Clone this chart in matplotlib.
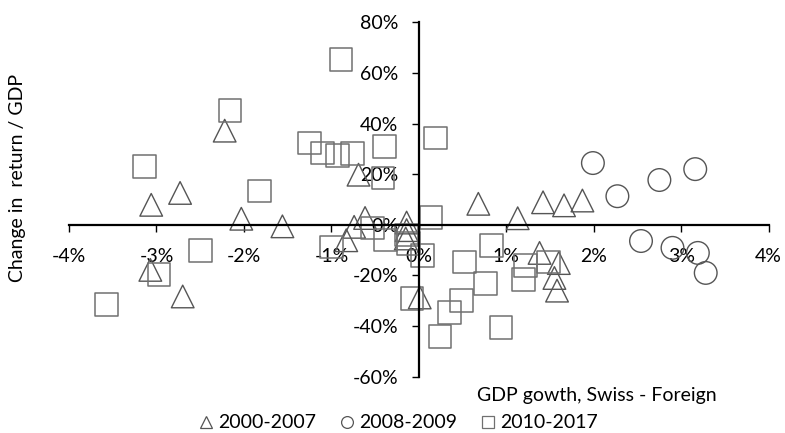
import matplotlib
matplotlib.use("Agg")
import matplotlib.pyplot as plt
from matplotlib.lines import Line2D
from matplotlib.ticker import FuncFormatter, MultipleLocator

plt.rcParams['font.family'] = ['Lato', 'DejaVu Sans']
plt.rcParams['axes.unicode_minus'] = False

# ---- data (percent units) ----
series_labels = ["2000-2007", "2008-2009", "2010-2017"]

tri_x = [-3.06, -2.73, -2.03, -3.07, -2.70, -2.22, -0.69, -1.56, -0.615, -0.74, -0.83,
         -0.14, -0.14, -0.15, 0.01, 0.68, 1.13, 1.42, 1.66, 1.87, 1.38, 1.60, 1.55, 1.58]
tri_y = [7.9, 12.6, 2.4, -17.8, -28.3, 37.2, 19.8, -0.6, 2.7, -0.8, -6.1,
         0.9, -2.1, -5.4, -28.7, 8.3, 2.6, 8.9, 7.7, 9.6, -11.1, -15.1, -21.0, -26.0]

circ_x = [1.99, 2.27, 2.75, 3.16, 2.54, 2.90, 3.19, 3.28]
circ_y = [24.4, 11.3, 17.7, 22.0, -6.4, -9.1, -11.1, -19.0]

sq_x = [-0.89, -2.16, -3.14, -1.82, -1.25, -1.10, -0.93, -0.76, -0.39, -0.41, 0.19,
        -2.50, -2.97, -3.57, -1.00, -0.53, -0.38, -0.14, -0.12, 0.04, 0.14, -0.08,
        0.83, 0.52, 0.76, 0.49, 0.35, 0.24, 0.94, 1.22, 1.20, 1.48]
sq_y = [65.2, 45.1, 23.1, 13.4, 32.3, 28.3, 27.4, 28.1, 31.0, 18.5, 34.3,
        -10.1, -19.6, -31.6, -8.8, -1.2, -6.0, -4.0, -7.5, -12.2, 3.0, -29.2,
        -8.1, -14.7, -23.2, -29.8, -34.6, -44.2, -40.5, -16.1, -21.5, -14.7]

x_title = "GDP gowth, Swiss - Foreign"
y_title = "Change in  return / GDP"

# ---- figure ----
W, H = 785, 433
fig = plt.figure(figsize=(W / 100, H / 100), dpi=100)
ax = fig.add_axes([69 / W, (H - 376.7) / H, (768.7 - 69) / W, (376.7 - 22.3) / H])

ms = 16.3
edge_dark = "#555555"
edge_sq = "#707070"
ax.scatter(tri_x, tri_y, marker="^", s=ms ** 2, facecolors="none",
           edgecolors=edge_dark, linewidths=1.0, zorder=2)
ax.scatter(circ_x, circ_y, marker="o", s=ms ** 2, facecolors="none",
           edgecolors=edge_dark, linewidths=1.0, zorder=2)
ax.scatter(sq_x, sq_y, marker="s", s=ms ** 2, facecolors="none",
           edgecolors=edge_sq, linewidths=1.1, zorder=2)

ax.set_xlim(-4, 4)
ax.set_ylim(-60, 80)
ax.xaxis.set_major_locator(MultipleLocator(1))
ax.yaxis.set_major_locator(MultipleLocator(20))
fmt = FuncFormatter(lambda v, p: f"{v:.0f}%")
ax.xaxis.set_major_formatter(fmt)
ax.yaxis.set_major_formatter(fmt)

for s in ["top", "right"]:
    ax.spines[s].set_visible(False)
ax.spines["left"].set_position(("data", 0))
ax.spines["bottom"].set_position(("data", 0))
for s in ["left", "bottom"]:
    ax.spines[s].set_linewidth(1.6)
    ax.spines[s].set_color("black")
    ax.spines[s].set_zorder(3)

ax.tick_params(axis="x", direction="out", length=5, width=1, pad=11.5,
               labelsize=14, colors="black")
ax.tick_params(axis="y", direction="out", length=5, width=1, pad=10,
               labelsize=14, colors="black")
ax.patch.set_visible(False)

fig.text(18 / W, 1 - 178 / H, y_title, rotation=90, ha="center", va="center",
         fontsize=14)
fig.text(597 / W, 1 - 395 / H, x_title, ha="center", va="center", fontsize=14)

handles = [
    Line2D([], [], marker="^", ls="none", markersize=8.5, markerfacecolor="none",
           markeredgecolor=edge_dark, markeredgewidth=0.9),
    Line2D([], [], marker="o", ls="none", markersize=8.5, markerfacecolor="none",
           markeredgecolor=edge_dark, markeredgewidth=0.9),
    Line2D([], [], marker="s", ls="none", markersize=8.5, markerfacecolor="none",
           markeredgecolor=edge_sq, markeredgewidth=0.9),
]
fig.legend(handles, series_labels, loc="center", bbox_to_anchor=(399 / W, 1 - 423 / H),
           ncol=3, frameon=False, fontsize=14, handlelength=0.6, handletextpad=0.3,
           columnspacing=1.3, borderpad=0, borderaxespad=0)

fig.savefig("out.png", dpi=100)
